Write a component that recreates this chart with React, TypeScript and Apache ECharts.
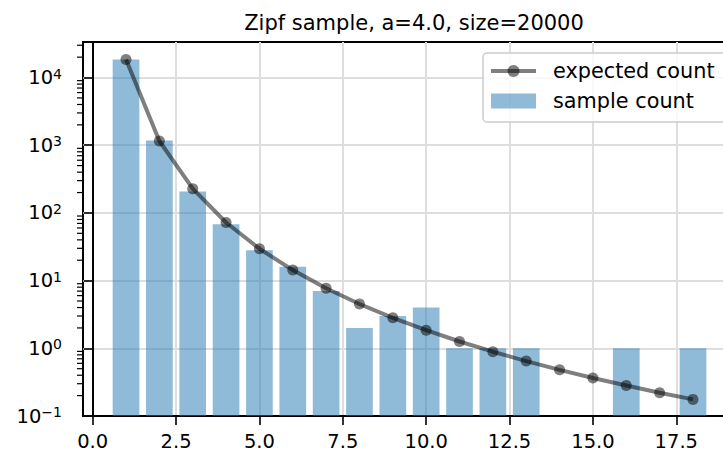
import React, { useEffect, useRef } from "react";
import * as echarts from "echarts";

const titleText = "Zipf sample, a=4.0, size=20000";
const ranks = [1, 2, 3, 4, 5, 6, 7, 8, 9, 10, 11, 12, 13, 14, 15, 16, 17, 18];
const expectedCounts = [18479, 1155, 228, 72.2, 29.6, 14.3, 7.7, 4.51, 2.82, 1.85, 1.26, 0.891, 0.647, 0.481, 0.365, 0.282, 0.221, 0.176];
const sampleCounts = [18484, 1175, 208, 68, 28, 16, 7, 2, 3, 4, 1, 1, 1, 0, 0, 1, 0, 1];
const xTicks = [0, 2.5, 5, 7.5, 10, 12.5, 15, 17.5];
const yTicks = [0.1, 1, 10, 100, 1000, 10000];
const yMinorMultipliers = [2, 3, 4, 5, 6, 7, 8, 9];

const X_MIN = -0.29;
const X_MAX = 19.29;
const Y_MIN = 0.1;
const Y_MAX = 33500;
const BAR_HALF = 0.4;
const FONT = "DejaVu Sans";

const yMinorTicks: number[] = [];
yTicks.forEach((d) => {
  yMinorMultipliers.forEach((m) => {
    const v = d * m;
    if (v <= Y_MAX) yMinorTicks.push(v);
  });
});

const supText = (v: number) => {
  const e = Math.round(Math.log10(v));
  return e < 0 ? "\u2212" + String(-e) : String(e);
};

export default function App() {
  const ref = useRef<HTMLDivElement>(null);
  useEffect(() => {
    if (!ref.current) return;
    const chart = echarts.init(ref.current, null, { renderer: "svg" });
    const option: any = {
      animation: false,
      backgroundColor: "#ffffff",
      textStyle: { fontFamily: FONT },
      title: {
        text: titleText,
        left: 409,
        top: 7,
        textAlign: "center",
        textStyle: { fontFamily: FONT, fontSize: 21, fontWeight: "normal", color: "#000" },
      },
      legend: {
        orient: "vertical",
        left: 483,
        top: 53,
        padding: [6, 30, 9, 6],
        itemWidth: 45,
        itemHeight: 15,
        itemGap: 6,
        backgroundColor: "rgba(255,255,255,0.8)",
        borderColor: "#cccccc",
        borderWidth: 1.5,
        borderRadius: 4,
        lineStyle: { width: 4 },
        textStyle: { fontFamily: FONT, fontSize: 20.8, color: "#000", lineHeight: 24, padding: [0, 0, 0, 12] },
        data: [{ name: "expected count" }, { name: "sample count", icon: "rect" }],
      },
      grid: {
        left: 83,
        top: 42,
        right: -13,
        bottom: 38,
        containLabel: false,
        outerBoundsMode: "none",
        show: true,
        borderColor: "#000",
        borderWidth: 2,
        backgroundColor: "transparent",
      },
      xAxis: {
        type: "value",
        min: X_MIN,
        max: X_MAX,
        axisLine: { show: true, lineStyle: { color: "#000", width: 2 } },
        axisTick: { show: true, length: 9, customValues: xTicks, lineStyle: { color: "#000", width: 1.6 } },
        axisLabel: {
          customValues: xTicks,
          formatter: (v: number) => v.toFixed(1),
          fontSize: 19.5,
          fontFamily: FONT,
          color: "#000",
          margin: 15,
        },
        splitLine: { show: true, lineStyle: { color: "#dedede", width: 2 } },
      },
      yAxis: {
        type: "log",
        logBase: 10,
        min: Y_MIN,
        max: Y_MAX,
        axisLine: { show: true, lineStyle: { color: "#000", width: 2 } },
        axisTick: { show: true, length: 9, customValues: yTicks, lineStyle: { color: "#000", width: 1.6 } },
        axisLabel: {
          customValues: yTicks,
          margin: 21,
          formatter: (v: number) => `{b|10}{s|${supText(v)}}`,
          rich: {
            b: { fontSize: 19.5, fontFamily: FONT, color: "#000", lineHeight: 22 },
            s: { fontSize: 14, fontFamily: FONT, color: "#000", lineHeight: 14, verticalAlign: "top" },
          },
        },
        splitLine: { show: true, lineStyle: { color: "#dedede", width: 2 } },
      },
      series: [
        {
          name: "sample count",
          type: "custom",
          z: 2,
          itemStyle: { color: "rgba(31,119,180,0.5)" },
          encode: { x: 0, y: 1 },
          data: ranks.map((r, i) => [r, sampleCounts[i]]),
          renderItem: (params: any, api: any) => {
            const x = api.value(0);
            const y = api.value(1);
            if (!(y > 0)) return null;
            const p0 = api.coord([x - BAR_HALF, Y_MIN]);
            const p1 = api.coord([x + BAR_HALF, y]);
            return {
              type: "rect",
              shape: { x: p0[0], y: p1[1], width: p1[0] - p0[0], height: p0[1] - p1[1] },
              style: { fill: "rgba(31,119,180,0.5)" },
            };
          },
        },
        {
          name: "expected count",
          type: "line",
          z: 3,
          symbol: "circle",
          symbolSize: 11,
          lineStyle: { color: "#000", opacity: 0.5, width: 4 },
          itemStyle: { color: "#000", opacity: 0.5 },
          data: ranks.map((r, i) => [r, expectedCounts[i]]),
        },
        {
          name: "minor ticks",
          type: "custom",
          z: 4,
          silent: true,
          clip: false,
          encode: { x: 0, y: 1 },
          data: yMinorTicks.map((v) => [X_MIN, v]),
          renderItem: (params: any, api: any) => {
            const p = api.coord([api.value(0), api.value(1)]);
            return {
              type: "line",
              shape: { x1: p[0] - 6, y1: p[1], x2: p[0], y2: p[1] },
              style: { stroke: "#000", lineWidth: 1.2 },
            };
          },
        },
      ],
    };
    chart.setOption(option);
    return () => chart.dispose();
  }, []);
  return (
    <div
      ref={ref}
      style={{ position: "fixed", left: 0, top: 0, width: 723, height: 454, overflow: "hidden" }}
    />
  );
}
